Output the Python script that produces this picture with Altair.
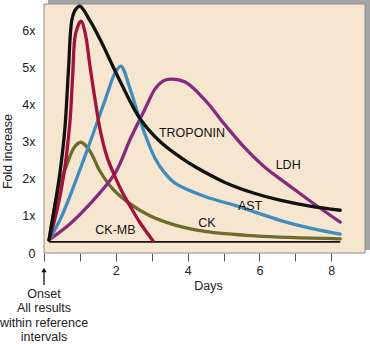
import altair as alt
import pandas as pd

# ---- data ----
tn_days = [0.14, 0.31, 0.45, 0.58, 0.68, 0.78, 0.88, 1.0, 1.28, 1.56, 2.12, 2.67, 3.23, 3.79, 4.21, 5.04, 5.88, 6.57, 7.41, 8.25]
tn_vals = [0.35, 1.32, 2.2, 3.33, 4.9, 6.29, 6.55, 6.64, 6.25, 5.75, 4.62, 3.62, 3.0, 2.58, 2.32, 1.90, 1.60, 1.42, 1.26, 1.15]

ckmb_days = [0.14, 0.35, 0.55, 0.72, 0.8, 0.88, 1.03, 1.15, 1.28, 1.42, 1.56, 1.75, 1.98, 2.2, 2.4, 2.67, 3.04]
ckmb_vals = [0.35, 1.1, 2.1, 3.5, 4.8, 5.9, 6.24, 5.9, 5.03, 4.14, 3.33, 2.6, 2.05, 1.6, 1.26, 0.82, 0.32]

ast_days = [0.14, 0.45, 0.75, 1.1, 1.42, 1.75, 1.98, 2.14, 2.40, 2.59, 2.81, 3.09, 3.35, 3.65, 4.48, 5.32, 5.88, 6.57, 7.41, 8.25]
ast_vals = [0.35, 0.9, 1.6, 2.5, 3.35, 4.25, 4.85, 5.03, 4.41, 3.82, 3.20, 2.55, 2.17, 1.88, 1.52, 1.28, 1.10, 0.88, 0.67, 0.51]

ldh_days = [0.14, 0.72, 1.28, 1.98, 2.40, 2.81, 3.09, 3.3, 3.51, 3.93, 4.48, 5.04, 5.60, 6.16, 6.85, 7.41, 8.25]
ldh_vals = [0.35, 0.78, 1.32, 2.15, 3.06, 3.87, 4.41, 4.62, 4.68, 4.60, 4.12, 3.45, 2.82, 2.30, 1.80, 1.40, 0.83]

ck_days = [0.14, 0.39, 0.64, 0.85, 1.03, 1.28, 1.56, 1.92, 2.4, 2.95, 3.65, 4.48, 5.88, 8.25]
ck_vals = [0.35, 1.67, 2.39, 2.85, 2.98, 2.74, 2.2, 1.72, 1.32, 1.0, 0.75, 0.58, 0.46, 0.38]

base_days = [0.14, 8.25]
base_vals = [0.30, 0.30]

series_names = ["CK", "LDH", "AST", "CK-MB", "TROPONIN"]
series_colors = ["#6B6B2B", "#862A80", "#3D8DBD", "#A3123A", "#111111"]

label_text = ["TROPONIN", "LDH", "AST", "CK", "CK-MB"]
label_x = [4.12, 6.8, 5.74, 4.54, 1.99]
label_y = [3.23, 2.37, 1.26, 0.81, 0.62]

x_ticks = [0, 1, 2, 3, 4, 5, 6, 7, 8]
y_ticks = [0, 1, 2, 3, 4, 5, 6]
onset_text = ["Onset", "All results", "within reference", "intervals"]

# ---- build tables ----
rows = []
for name, d, v in [("CK", ck_days, ck_vals), ("LDH", ldh_days, ldh_vals),
                   ("AST", ast_days, ast_vals), ("CK-MB", ckmb_days, ckmb_vals),
                   ("TROPONIN", tn_days, tn_vals)]:
    for i, (a, b) in enumerate(zip(d, v)):
        rows.append({"series": name, "day": a, "val": b, "order": i})
curves = pd.DataFrame(rows)
base = pd.DataFrame({"day": base_days, "val": base_vals})
labels = pd.DataFrame({"text": label_text, "day": label_x, "val": label_y})

W, H = 321, 249
xs = alt.Scale(domain=[0, 8.94], nice=False, zero=False)
ys = alt.Scale(domain=[0, 6.7], nice=False, zero=False)
FONT = "Liberation Sans"

one = alt.Data(values=[{"day": 0}])

shadow = alt.Chart(one).mark_rect(color="#A4A4A4").encode(
    x=alt.value(4), x2=alt.value(W + 5), y=alt.value(-4), y2=alt.value(H - 3))
panel = alt.Chart(one).mark_rect(fill="#F7E6CF", stroke="#8c8c8c", strokeWidth=1).encode(
    x=alt.value(0), x2=alt.value(W), y=alt.value(0), y2=alt.value(H))

xaxis = alt.Axis(values=x_ticks, domain=False, grid=False, tickSize=8, tickColor="#555",
                 labelExpr="datum.value % 2 == 0 && datum.value > 0 ? datum.label : ''",
                 labelFont=FONT, labelFontSize=12.5, labelColor="#222", labelPadding=3,
                 title="Days", titleFont=FONT, titleFontSize=12.5, titleFontWeight="normal",
                 titleColor="#222", titleX=164, titleY=32, titleBaseline="middle")
yaxis = alt.Axis(values=y_ticks, domain=False, grid=False, ticks=False, labelPadding=9,
                 labelExpr="datum.value == 0 ? '0' : datum.value + 'x'",
                 labelFont=FONT, labelFontSize=12.5, labelColor="#222",
                 title="Fold increase", titleFont=FONT, titleFontSize=12.5, titleFontWeight="normal",
                 titleColor="#222", titleX=-30, titleY=147)

baseline = alt.Chart(base).mark_line(color="#111", strokeWidth=1.8).encode(
    x=alt.X("day:Q", scale=xs, axis=xaxis),
    y=alt.Y("val:Q", scale=ys, axis=yaxis))

lines = alt.Chart(curves).mark_line(strokeWidth=3.3, interpolate="catmull-rom",
                                    strokeCap="round", strokeJoin="round").encode(
    x=alt.X("day:Q", scale=xs),
    y=alt.Y("val:Q", scale=ys),
    color=alt.Color("series:N", scale=alt.Scale(domain=series_names, range=series_colors), legend=None),
    order="order:Q")

texts = alt.Chart(labels).mark_text(font=FONT, fontSize=12.5, color="#111",
                                    align="center", baseline="middle").encode(
    x=alt.X("day:Q", scale=xs), y=alt.Y("val:Q", scale=ys), text="text:N")

arrow_shaft = alt.Chart(one).mark_rule(color="#111", strokeWidth=1.3).encode(
    x=alt.X("day:Q", scale=xs), y=alt.value(H + 18), y2=alt.value(H + 32))
arrow_head = alt.Chart(one).mark_point(shape="triangle-up", filled=True, color="#111",
                                       size=28, opacity=1).encode(
    x=alt.X("day:Q", scale=xs), y=alt.value(H + 17))
onset = alt.Chart(one).mark_text(font=FONT, fontSize=12.5, color="#222", align="center",
                                 baseline="middle", lineHeight=14.4,
                                 text=onset_text).encode(
    x=alt.X("day:Q", scale=xs), y=alt.value(H + 41))

chart = alt.layer(shadow, panel, baseline, lines, texts, arrow_shaft, arrow_head, onset).properties(
    width=W, height=H,
    autosize=alt.AutoSizeParams(type="none"),
    padding={"left": 44, "top": 4, "right": 5, "bottom": 91},
    background="white",
).configure_view(stroke=None)

chart.save("out.html", embed_options={"renderer": "svg", "actions": False})
